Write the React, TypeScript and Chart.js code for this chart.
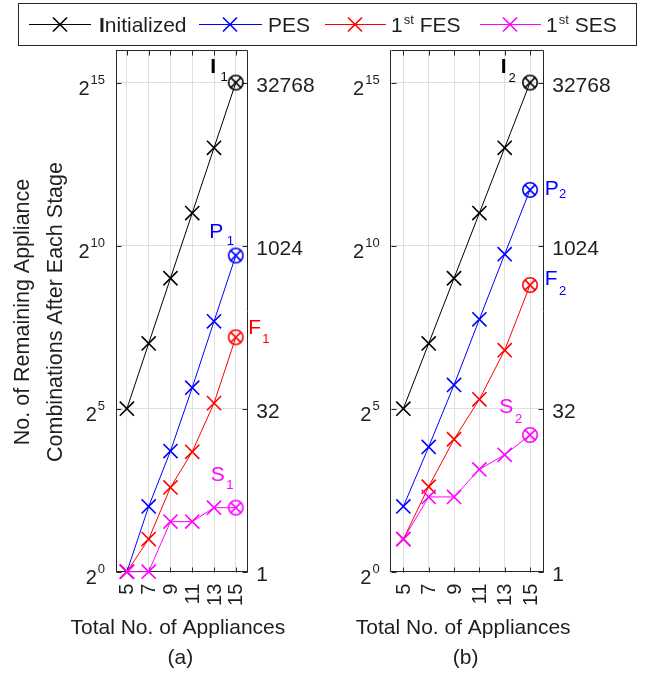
import React, { useEffect, useRef } from 'react';
import { Chart, registerables } from 'chart.js';

Chart.register(...registerables);

// ---------------- data ----------------
const appliances = [5, 7, 9, 11, 13, 15];
const xTickLabels = ['5', '7', '9', '11', '13', '15'];
const yTickExponents = [0, 5, 10, 15];
const rightTickLabels = ['1', '32', '1024', '32768'];
const seriesNames = ['Initialized', 'PES', '1st FES', '1st SES'];

const initializedA = [32, 128, 512, 2048, 8192, 32768];
const pesA = [1, 4, 13, 50, 205, 830];
const fesA = [1, 2, 6, 12.8, 36, 146];
const sesA = [1, 1, 2.9, 2.9, 3.9, 3.9];

const initializedB = [32, 128, 512, 2048, 8192, 32768];
const pesB = [4, 14.2, 53, 214, 853, 3350];
const fesB = [2, 6.1, 16.7, 39, 111, 443];
const sesB = [2, 4.9, 4.9, 8.8, 12, 18.3];

const endLabelLetters = ['I', 'P', 'F', 'S'];

// ---------------- style ----------------
const W = 646;
const H = 675;
const FONT = "'Liberation Sans', Arial, Helvetica, sans-serif";
const COLORS = ['#000000', '#0000ff', '#ff0000', '#ff00ff'];
const AXIS = '#262626';
const GRID = '#dfdfdf';
const TEXT = '#1e1e1e';

type Ann = { color: string; dx: number; dy: number; sdx: number; sdy: number; bold?: boolean };

type Panel = {
  key: string;
  left: number;
  right: number;
  series: number[][];
  sub: string;
  caption: string;
  ann: Ann[];
  main: boolean;
};

const TOP = 50;
const BOTTOM = 571.7;

const panelA: Panel = {
  key: 'a',
  left: 116,
  right: 246.7,
  series: [initializedA, pesA, fesA, sesA],
  sub: '1',
  caption: '(a)',
  main: true,
  ann: [
    { color: '#000000', dx: -25.5, dy: -9.8, sdx: -15.2, sdy: -1.8, bold: true },
    { color: '#0000ff', dx: -26.5, dy: -18, sdx: -9, sdy: -10.5 },
    { color: '#ff0000', dx: 12.5, dy: -3, sdx: 26.4, sdy: 6 },
    { color: '#ff00ff', dx: -25, dy: -26.6, sdx: -9.5, sdy: -18.3 },
  ],
};

const panelB: Panel = {
  key: 'b',
  left: 390.7,
  right: 542.7,
  series: [initializedB, pesB, fesB, sesB],
  sub: '2',
  caption: '(b)',
  main: false,
  ann: [
    { color: '#000000', dx: -29.2, dy: -9.8, sdx: -21.5, sdy: -0.8, bold: true },
    { color: '#0000ff', dx: 14.7, dy: 5, sdx: 29, sdy: 8 },
    { color: '#0000ff', dx: 14.7, dy: 0, sdx: 29, sdy: 10 },
    { color: '#ff00ff', dx: -30.7, dy: -21.7, sdx: -15, sdy: -11.7 },
  ],
};

function finalMarker(color: string): HTMLCanvasElement {
  const c = document.createElement('canvas');
  c.width = 20;
  c.height = 20;
  const g = c.getContext('2d')!;
  g.strokeStyle = color;
  g.lineWidth = 1.6;
  g.beginPath();
  g.arc(10, 10, 7.2, 0, Math.PI * 2);
  g.stroke();
  const o = 5.1;
  g.beginPath();
  g.moveTo(10 - o, 10 - o);
  g.lineTo(10 + o, 10 + o);
  g.moveTo(10 + o, 10 - o);
  g.lineTo(10 - o, 10 + o);
  g.stroke();
  return c;
}

function drawX(ctx: CanvasRenderingContext2D, x: number, y: number, o: number) {
  ctx.beginPath();
  ctx.moveTo(x - o, y - o);
  ctx.lineTo(x + o, y + o);
  ctx.moveTo(x + o, y - o);
  ctx.lineTo(x - o, y + o);
  ctx.stroke();
}

const legendLayout = [
  { x1: 29, x2: 91, m: 60, t: 99 },
  { x1: 199, x2: 262, m: 230, t: 268 },
  { x1: 325, x2: 386, m: 355, t: 391 },
  { x1: 480, x2: 541, m: 510, t: 546 },
];

function drawLegendText(ctx: CanvasRenderingContext2D, name: string, x: number, base: number) {
  let cx = x;
  const seg = (t: string, font: string, dy = 0) => {
    ctx.font = font;
    ctx.fillText(t, cx, base + dy);
    cx += ctx.measureText(t).width;
  };
  if (name.startsWith('1st ')) {
    seg('1', `21px ${FONT}`);
    cx += 1;
    seg('st', `13px ${FONT}`, -8);
    seg(' ' + name.slice(4), `21px ${FONT}`);
  } else if (name === 'Initialized') {
    seg('I', `bold 21px ${FONT}`);
    seg(name.slice(1), `21px ${FONT}`);
  } else {
    seg(name, `21px ${FONT}`);
  }
}

function makePlugin(panel: Panel) {
  return {
    id: 'decor_' + panel.key,
    beforeDatasetsDraw(chart: any) {
      const { ctx, chartArea: a, scales } = chart;
      const xs = scales.x;
      const ys = scales.y;
      ctx.save();
      ctx.strokeStyle = AXIS;
      ctx.lineWidth = 1;
      const top = Math.round(a.top) + 0.5;
      const bot = Math.round(a.bottom) + 0.5;
      const lft = Math.round(a.left) + 0.5;
      const rgt = Math.round(a.right) + 0.5;
      ctx.beginPath();
      ctx.moveTo(lft, top);
      ctx.lineTo(rgt, top);
      ctx.lineTo(rgt, bot);
      ctx.stroke();
      const TL = 5;
      ctx.beginPath();
      appliances.forEach((v) => {
        const px = Math.round(xs.getPixelForValue(v)) + 0.5;
        ctx.moveTo(px, bot);
        ctx.lineTo(px, bot - TL);
        ctx.moveTo(px, top);
        ctx.lineTo(px, top + TL);
      });
      yTickExponents.forEach((e) => {
        const py = Math.round(ys.getPixelForValue(Math.pow(2, e))) + 0.5;
        ctx.moveTo(lft, py);
        ctx.lineTo(lft + TL, py);
        ctx.moveTo(rgt, py);
        ctx.lineTo(rgt - TL, py);
      });
      ctx.stroke();
      ctx.restore();
    },
    afterDraw(chart: any) {
      const { ctx, chartArea: a, scales } = chart;
      const xs = scales.x;
      const ys = scales.y;
      ctx.save();
      ctx.fillStyle = TEXT;
      ctx.textAlign = 'left';
      ctx.textBaseline = 'alphabetic';

      // left tick labels 2^n
      yTickExponents.forEach((e) => {
        const py = ys.getPixelForValue(Math.pow(2, e));
        ctx.font = `20px ${FONT}`;
        const w2 = ctx.measureText('2').width;
        ctx.font = `13px ${FONT}`;
        const we = ctx.measureText(String(e)).width;
        const x0 = a.left - 11 - we - 1 - w2;
        ctx.font = `20px ${FONT}`;
        ctx.fillText('2', x0, py + 12);
        ctx.font = `13px ${FONT}`;
        ctx.fillText(String(e), x0 + w2 + 1, py + 1.5);
      });

      // right tick labels
      ctx.font = `21px ${FONT}`;
      yTickExponents.forEach((e, i) => {
        const py = ys.getPixelForValue(Math.pow(2, e));
        ctx.fillText(rightTickLabels[i], a.right + 9.5, py + 9.5);
      });

      // x tick labels (rotated)
      ctx.font = `20px ${FONT}`;
      appliances.forEach((v, i) => {
        const px = xs.getPixelForValue(v);
        ctx.save();
        ctx.translate(px, a.bottom + 12);
        ctx.rotate(-Math.PI / 2);
        ctx.textAlign = 'right';
        ctx.textBaseline = 'middle';
        ctx.fillText(xTickLabels[i], 0, 1);
        ctx.restore();
      });

      // x title + caption
      const cx = (a.left + a.right) / 2;
      ctx.textAlign = 'center';
      ctx.font = `21px ${FONT}`;
      ctx.fillText('Total No. of Appliances', cx - 3.5, 634);
      ctx.fillText(panel.caption, cx - 1, 664);

      // end-point annotations
      ctx.textAlign = 'left';
      panel.ann.forEach((an, i) => {
        const meta = chart.getDatasetMeta(i);
        const pt = meta.data[meta.data.length - 1];
        ctx.fillStyle = an.color;
        ctx.font = `${an.bold ? 'bold ' : ''}21px ${FONT}`;
        ctx.fillText(endLabelLetters[i], pt.x + an.dx, pt.y + an.dy);
        ctx.font = `13px ${FONT}`;
        ctx.fillText(panel.sub, pt.x + an.sdx, pt.y + an.sdy);
      });

      if (panel.main) {
        // y title
        ctx.fillStyle = TEXT;
        ctx.font = `21.5px ${FONT}`;
        ctx.textAlign = 'center';
        const cy = 312;
        ctx.save();
        ctx.translate(29, cy);
        ctx.rotate(-Math.PI / 2);
        ctx.fillText('No. of Remaining Appliance', 0, 0);
        ctx.restore();
        ctx.save();
        ctx.translate(62, cy);
        ctx.rotate(-Math.PI / 2);
        ctx.fillText('Combinations After Each Stage', 0, 0);
        ctx.restore();

        // legend box
        ctx.strokeStyle = AXIS;
        ctx.lineWidth = 1;
        ctx.strokeRect(18.5, 3.5, 618, 42);
        ctx.textAlign = 'left';
        const ly = 24.5;
        seriesNames.forEach((name, i) => {
          const L = legendLayout[i];
          ctx.strokeStyle = COLORS[i];
          ctx.lineWidth = 1;
          ctx.beginPath();
          ctx.moveTo(L.x1, ly);
          ctx.lineTo(L.x2, ly);
          ctx.stroke();
          ctx.lineWidth = 1.6;
          drawX(ctx, L.m, ly, 7);
          ctx.fillStyle = TEXT;
          drawLegendText(ctx, name, L.t, 32);
        });
      }
      ctx.restore();
    },
  };
}

function buildConfig(panel: Panel): any {
  const last = appliances.length - 1;
  const n = panel.series.length;
  return {
    type: 'line',
    data: {
      datasets: panel.series.map((vals, i) => ({
        label: seriesNames[i],
        data: appliances.map((x, j) => ({ x, y: vals[j] })),
        order: n - 1 - i,
        borderColor: COLORS[i],
        borderWidth: 1,
        pointStyle: appliances.map((_, j) => (j === last ? finalMarker(COLORS[i]) : 'crossRot')),
        pointRadius: 10,
        pointHoverRadius: 10,
        pointBorderWidth: 1.6,
        pointBorderColor: COLORS[i],
        pointBackgroundColor: 'rgba(0,0,0,0)',
        tension: 0,
        clip: false,
        fill: false,
      })),
    },
    options: {
      animation: false,
      responsive: false,
      events: [],
      layout: {
        padding: { left: panel.left, right: W - panel.right, top: TOP, bottom: H - BOTTOM },
      },
      plugins: { legend: { display: false }, tooltip: { enabled: false }, title: { display: false } },
      scales: {
        x: {
          type: 'linear',
          min: 4,
          max: 16,
          afterBuildTicks: (s: any) => {
            s.ticks = appliances.map((v) => ({ value: v }));
          },
          ticks: { display: false },
          grid: { color: GRID, drawTicks: false, lineWidth: 1 },
          border: { display: true, color: AXIS, width: 1 },
        },
        y: {
          type: 'logarithmic',
          min: 1,
          max: 65536,
          afterBuildTicks: (s: any) => {
            s.ticks = yTickExponents.map((e) => ({ value: Math.pow(2, e) }));
          },
          ticks: { display: false },
          grid: { color: GRID, drawTicks: false, lineWidth: 1 },
          border: { display: true, color: AXIS, width: 1 },
        },
      },
    },
    plugins: [makePlugin(panel)],
  };
}

export default function App() {
  const refA = useRef<HTMLCanvasElement>(null);
  const refB = useRef<HTMLCanvasElement>(null);
  useEffect(() => {
    const ca = new Chart(refA.current!, buildConfig(panelA));
    const cb = new Chart(refB.current!, buildConfig(panelB));
    return () => {
      ca.destroy();
      cb.destroy();
    };
  }, []);
  return (
    <div style={{ position: 'absolute', left: 0, top: 0, width: W, height: H, background: '#ffffff' }}>
      <canvas ref={refA} width={W} height={H} style={{ position: 'absolute', left: 0, top: 0 }} />
      <canvas ref={refB} width={W} height={H} style={{ position: 'absolute', left: 0, top: 0 }} />
    </div>
  );
}
